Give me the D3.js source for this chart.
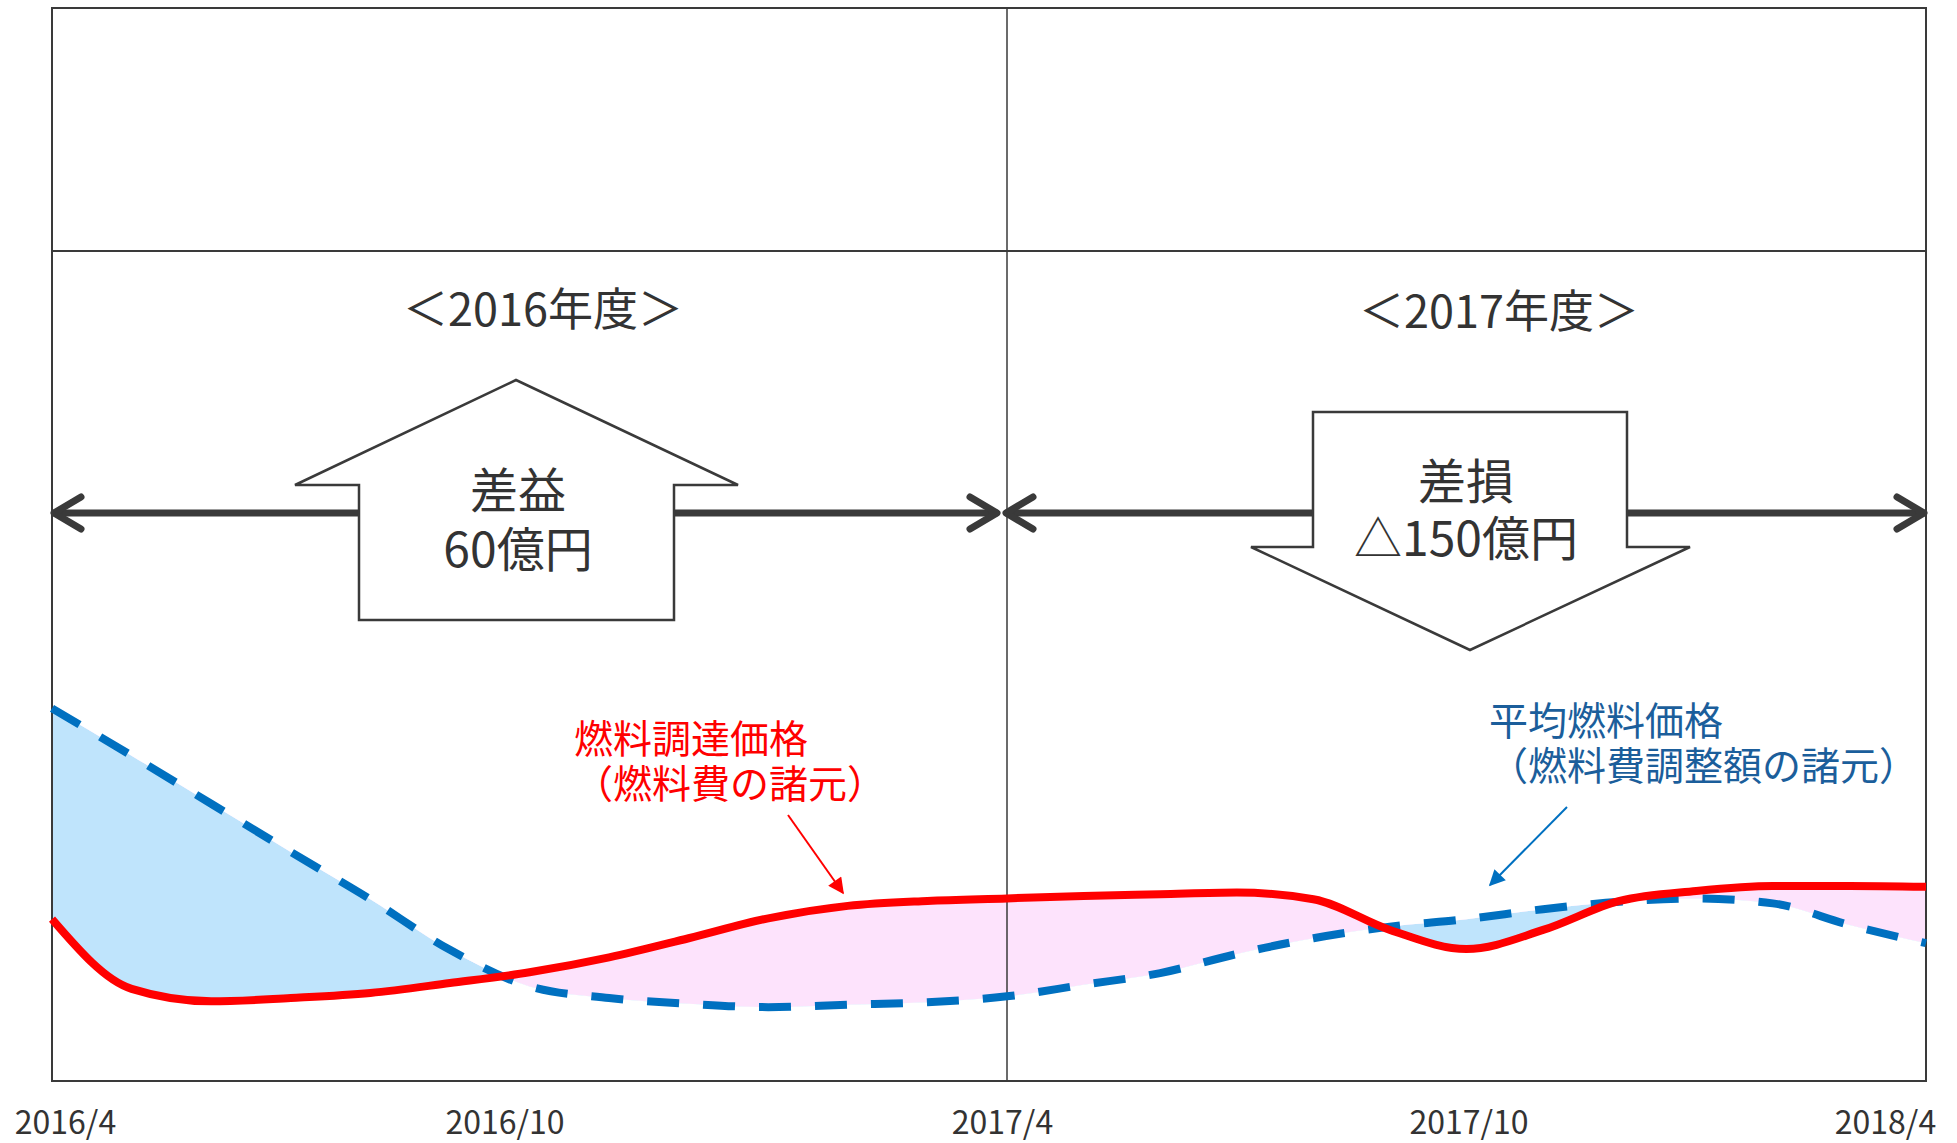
<!DOCTYPE html>
<html lang="ja">
<head>
<meta charset="utf-8">
<script src="https://cdn.jsdelivr.net/npm/d3@7"></script>
<style>
  body { margin: 0; background: #fff; }
  text { font-family: "Noto Sans CJK JP", "Noto Sans", sans-serif; }
</style>
</head>
<body>
<div id="svgRoot"></div>
<script>
// months counted from 2016/4 (0) to 2018/4 (24)
const months = d3.range(0, 25);
// 燃料調達価格 (red, solid) and 平均燃料価格 (blue, dashed), index
const procurePrice = [19.5, 11.1, 9.6, 10.0, 10.6, 11.8, 13.1, 14.9, 17.2, 19.6, 21.1, 21.7,
  22.0, 22.3, 22.5, 22.7, 21.9, 18.2, 15.9, 18.2, 21.7, 22.9, 23.5, 23.5, 23.4];
const averagePrice = [44.9, 39.2, 33.4, 27.6, 21.9, 15.8, 11.4, 10.0, 9.3, 8.9, 9.2, 9.5,
  10.2, 11.6, 13.0, 15.3, 17.2, 18.6, 19.5, 20.7, 21.6, 22.0, 21.4, 18.8, 16.6];
const tickMonths = [0, 6, 12, 18, 24];
const tickLabels = ["2016/4", "2016/10", "2017/4", "2017/10", "2018/4"];
const periodLabels = ["＜2016年度＞", "＜2017年度＞"];
const gainLabel = ["差益", "60億円"];
const lossLabel = ["差損", "△150億円"];
const redNote = ["燃料調達価格", "（燃料費の諸元）"];
const blueNote = ["平均燃料価格", "（燃料費調整額の諸元）"];

const W = 1957, H = 1143;
const frame = { left: 52, top: 8, right: 1926, bottom: 1081, split: 251 };
const dark = "#3a3a3a";

const data = months.map((m, i) => ({ m: m, red: procurePrice[i], blue: averagePrice[i] }));

const svg = d3.select("#svgRoot").append("svg")
  .attr("width", W).attr("height", H);

// x: months, the fiscal-year divider is not at the middle of the box
const x = d3.scaleLinear().domain([0, 12, 24]).range([frame.left, 1007, frame.right]);
const y = d3.scaleLinear().domain([0, 100]).range([frame.bottom, frame.split]);

const defs = svg.append("defs");
["red", "#0070C0"].forEach((c, i) => {
  defs.append("marker")
    .attr("id", "head" + i)
    .attr("viewBox", "0 0 10 10")
    .attr("refX", 9).attr("refY", 5)
    .attr("markerUnits", "userSpaceOnUse")
    .attr("markerWidth", 18).attr("markerHeight", 16)
    .attr("orient", "auto")
    .append("path").attr("d", "M0,0 L10,5 L0,10 Z").attr("fill", c);
});

// clip regions above / below the blue line (difference chart)
const curve = d3.curveMonotoneX;
defs.append("clipPath").attr("id", "aboveBlue")
  .append("path").datum(data)
  .attr("d", d3.area().curve(curve).x(d => x(d.m)).y0(0).y1(d => y(d.blue)));
defs.append("clipPath").attr("id", "belowBlue")
  .append("path").datum(data)
  .attr("d", d3.area().curve(curve).x(d => x(d.m)).y0(H).y1(d => y(d.blue)));

const between = d3.area().curve(curve)
  .x(d => x(d.m)).y0(d => y(d.red)).y1(d => y(d.blue));

svg.append("path").datum(data)
  .attr("d", between)
  .attr("clip-path", "url(#belowBlue)")
  .attr("fill", "#BFE4FC");
svg.append("path").datum(data)
  .attr("d", between)
  .attr("clip-path", "url(#aboveBlue)")
  .attr("fill", "#FDE3FC");

// frame, divider lines
svg.append("rect")
  .attr("x", frame.left).attr("y", frame.top)
  .attr("width", frame.right - frame.left).attr("height", frame.bottom - frame.top)
  .attr("fill", "none").attr("stroke", dark).attr("stroke-width", 2);
svg.append("line")
  .attr("x1", frame.left).attr("x2", frame.right)
  .attr("y1", frame.split).attr("y2", frame.split)
  .attr("stroke", dark).attr("stroke-width", 2);
svg.append("line")
  .attr("x1", x(12)).attr("x2", x(12))
  .attr("y1", frame.top).attr("y2", frame.bottom)
  .attr("stroke", dark).attr("stroke-width", 1.5);

// lines
const line = d3.line().curve(curve).x(d => x(d.m));
svg.append("path").datum(data)
  .attr("d", line.y(d => y(d.blue)))
  .attr("fill", "none").attr("stroke", "#0070C0")
  .attr("stroke-width", 8).attr("stroke-dasharray", "32,24");
svg.append("path").datum(data)
  .attr("d", line.y(d => y(d.red)))
  .attr("fill", "none").attr("stroke", "#FF0000")
  .attr("stroke-width", 8).attr("stroke-linejoin", "round");

// x axis labels
const tickNudge = [13, -25, -5, 2, -41];
svg.append("g")
  .attr("transform", "translate(0," + frame.bottom + ")")
  .call(d3.axisBottom(x).tickValues(tickMonths).tickFormat((d, i) => tickLabels[i]).tickSize(0))
  .call(g => g.select(".domain").remove())
  .selectAll("text")
  .attr("y", 53).attr("dy", 0)
  .attr("dx", (d, i) => tickNudge[i])
  .attr("fill", "#333")
  .style("font-size", "32px")
  .style("font-family", "'Noto Sans CJK JP', sans-serif");

// period titles
svg.selectAll(".period")
  .data(periodLabels)
  .enter().append("text")
  .attr("x", (d, i) => i === 0 ? 543 : 1499)
  .attr("y", (d, i) => i === 0 ? 306 : 308)
  .attr("text-anchor", "middle")
  .attr("dominant-baseline", "central")
  .attr("fill", "#333")
  .style("font-size", "45px")
  .text(d => d);

// double-headed period arrows
const arrowY = 513;
function periodArrow(x0, x1) {
  const g = svg.append("g").attr("stroke", dark).attr("stroke-width", 7)
    .attr("stroke-linecap", "round").attr("stroke-linejoin", "round").attr("fill", "none");
  g.append("line").attr("x1", x0 + 3).attr("x2", x1 - 3).attr("y1", arrowY).attr("y2", arrowY);
  g.append("polyline").attr("points", [[x0 + 29, arrowY - 16], [x0 + 2, arrowY], [x0 + 29, arrowY + 16]].join(" "));
  g.append("polyline").attr("points", [[x1 - 29, arrowY - 16], [x1 - 2, arrowY], [x1 - 29, arrowY + 16]].join(" "));
}
periodArrow(x(0), x(12) - 8);
periodArrow(x(12) - 3, x(24));

// block arrows
const upArrow = [[516, 380], [738, 485], [674, 485], [674, 620], [359, 620], [359, 485], [295, 485]];
const downArrow = [[1313, 412], [1627, 412], [1627, 547], [1690, 547], [1470, 650], [1251, 547], [1313, 547]];
[upArrow, downArrow].forEach(pts => {
  svg.append("polygon")
    .attr("points", pts.join(" "))
    .attr("fill", "#fff").attr("stroke", dark).attr("stroke-width", 2.5);
});

// multi-line text as one element with tspans
function multiline(lines, x0, y0, step, anchor, color, size) {
  const t = svg.append("text")
    .attr("x", x0).attr("y", y0)
    .attr("text-anchor", anchor)
    .attr("dominant-baseline", "central")
    .attr("fill", color)
    .style("font-size", size + "px");
  t.selectAll("tspan").data(lines).enter().append("tspan")
    .attr("x", x0)
    .attr("y", (d, i) => y0 + i * step)
    .attr("dominant-baseline", "central")
    .text(d => d);
}
multiline(gainLabel, 518, 487, 59, "middle", "#333", 48);
multiline(lossLabel, 1466, 478, 57, "middle", "#333", 48);

// notes with arrows
multiline(redNote, 574, 736, 45, "start", "#FF0000", 39);
multiline(blueNote, 1489, 718, 45, "start", "#1B5E9B", 39);

svg.append("line")
  .attr("x1", 788).attr("y1", 815).attr("x2", 843).attr("y2", 893)
  .attr("stroke", "#FF0000").attr("stroke-width", 2)
  .attr("marker-end", "url(#head0)");
svg.append("line")
  .attr("x1", 1567).attr("y1", 807).attr("x2", 1490).attr("y2", 885)
  .attr("stroke", "#0070C0").attr("stroke-width", 2)
  .attr("marker-end", "url(#head1)");
</script>
</body>
</html>
